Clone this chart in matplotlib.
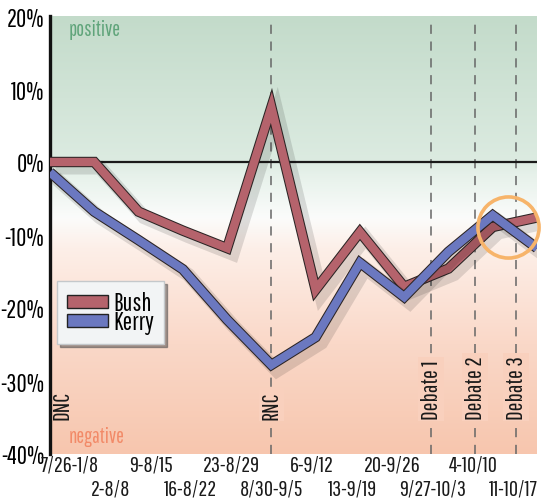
import numpy as np
import matplotlib
matplotlib.use("Agg")
import matplotlib.pyplot as plt
import matplotlib.patheffects as pe
from matplotlib.colors import LinearSegmentedColormap
from matplotlib.patches import Patch

plt.rcParams['font.family'] = ['Pathway Gothic One', 'Roboto Condensed', 'DejaVu Sans']

# Weekly polling periods
periods = ["7/26-1/8", "2-8/8", "9-8/15", "16-8/22", "23-8/29", "8/30-9/5",
           "6-9/12", "13-9/19", "20-9/26", "9/27-10/3", "4-10/10", "11-10/17"]

# Net tone of coverage (%)
bush = [0, 0, -6.8, -9.4, -11.8, 7.5, -17.5, -9.6, -17.1, -14.6, -8.9, -7.6]
kerry = [-1.4, -6.8, -10.7, -14.7, -21.6, -27.8, -24.0, -13.8, -18.5, -12.3, -7.3, -11.8]

# Event markers (position on the period axis, label)
events = [(0.0, "DNC"), (5.0, "RNC"), (8.61, "Debate 1"), (9.6, "Debate 2"), (10.53, "Debate 3")]

yticks = [20, 10, 0, -10, -20, -30, -40]

fig = plt.figure(figsize=(5.47, 5.02), dpi=100)
ax = fig.add_axes([50 / 547, 47 / 502, 487 / 547, 438 / 502])

x = np.arange(len(periods))
ax.set_xlim(0, 11)
ax.set_ylim(-40, 20)

# Background gradient: green (positive) -> white -> salmon (negative)
cmap = LinearSegmentedColormap.from_list(
    "tone",
    [(0.0, "#f7c6ae"), (0.25, "#fad8c8"), (0.47, "#fdefe8"), (0.54, "#fbfcfb"),
     (0.64, "#e6f1ea"), (0.67, "#dcebe1"), (1.0, "#c3dbca")])
grad = np.linspace(0, 1, 256).reshape(-1, 1)
ax.imshow(grad, cmap=cmap, aspect="auto", origin="lower",
          extent=[0, 11, -40, 20], zorder=0)

# Zero line
ax.axhline(0, color="#1a1a1a", lw=1.6, zorder=2)

# Event lines and labels
label_base = -35.2
box_color = cmap((label_base + 4 + 40) / 60)
for xe, lab in events:
    if xe > 0:
        ax.axvline(xe, ymin=0, ymax=0.985, color="#666666", lw=1.1,
                   dashes=(6, 5), zorder=1)
        ax.text(xe, label_base, lab, rotation=90, ha="center", va="bottom",
                fontsize=17, color="#1a1a1a", zorder=3,
                bbox=dict(boxstyle="square,pad=0.1", fc=box_color, ec="none"))
    else:
        ax.text(0.27, label_base, lab, rotation=90, ha="center", va="bottom",
                fontsize=17, color="#1a1a1a", zorder=3)

ax.text(0.42, 18.2, "positive", fontsize=15, color="#5fa47a", va="center")
ax.text(0.42, -37.6, "negative", fontsize=15, color="#f28a68", va="center")

# Series lines with dark outline and soft shadow
def draw_series(vals, color, z):
    ax.plot(x, vals, color=color, lw=6.0, solid_joinstyle="miter",
            solid_capstyle="butt", zorder=z,
            path_effects=[pe.SimpleLineShadow(offset=(4, -4), shadow_color="k",
                                               alpha=0.12, linewidth=10),
                          pe.Stroke(linewidth=7.5, foreground="#2b2424"),
                          pe.Normal()])

draw_series(bush, "#b5636c", 4)
draw_series(kerry, "#6b78c0", 5)

# Highlight circle
ax.plot([10.35], [-8.9], marker="o", ms=44, mfc="none", mec="#f7b46a",
        mew=2.6, zorder=6, clip_on=False)

# Legend
handles = [Patch(facecolor="#b5636c", edgecolor="#222222", lw=1.0, label="Bush"),
           Patch(facecolor="#6b78c0", edgecolor="#222222", lw=1.0, label="Kerry")]
leg = ax.legend(handles=handles, loc="upper left", bbox_to_anchor=(0.014, 0.395),
                fontsize=18, frameon=True, fancybox=False, shadow=True,
                handlelength=1.65, handleheight=0.42, handletextpad=0.22,
                labelspacing=-0.18, borderpad=0.4, borderaxespad=0)
leg.get_frame().set_facecolor("#f2f4f5")
leg.get_frame().set_edgecolor("#c4c8cb")
leg.get_frame().set_linewidth(1.0)
leg.set_zorder(7)

# Axes styling
for s in ["top", "right", "bottom"]:
    ax.spines[s].set_visible(False)
ax.spines["left"].set_linewidth(2.4)
ax.spines["left"].set_color("#111111")

ax.set_yticks(yticks)
ax.set_yticklabels([f"{v}%" for v in yticks], fontsize=18)
ax.tick_params(axis="y", length=0, pad=4)

ax.set_xticks([])
label_pos = np.linspace(0.45, 10.47, len(periods))
for i, (xp, lab) in enumerate(zip(label_pos, periods)):
    ax.text(xp, -41.5 if i % 2 == 0 else -44.7, lab, ha="center", va="center",
            fontsize=16, color="#1a1a1a", clip_on=False)

fig.savefig("out.png", dpi=100)
